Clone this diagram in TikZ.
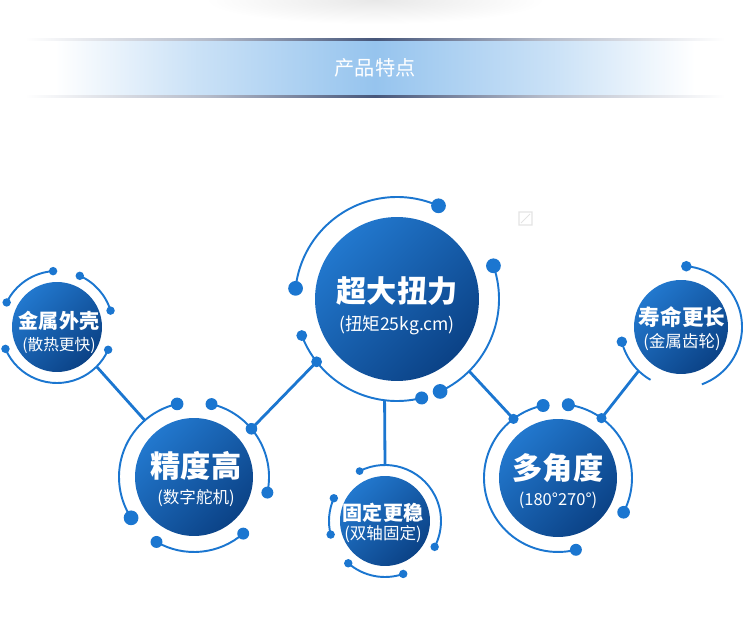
\documentclass[tikz,border=0pt]{standalone}
\usepackage{fontspec}
\setmainfont{Noto Sans CJK SC}
\usetikzlibrary{calc}
\definecolor{ringblue}{RGB}{27,118,208}
\definecolor{disclight}{RGB}{34,120,206}
\definecolor{discdark}{RGB}{11,66,134}
\definecolor{bandblue}{RGB}{150,196,238}
\definecolor{bandline}{RGB}{70,86,122}
\pgfdeclarehorizontalshading{bandfill}{100bp}{color(0bp)=(white); color(25bp)=(white);
  color(36bp)=(bandblue!50); color(50bp)=(bandblue); color(64bp)=(bandblue!50);
  color(75bp)=(white); color(100bp)=(white)}
\pgfdeclarehorizontalshading{bandedge}{100bp}{color(0bp)=(white); color(25bp)=(white);
  color(38bp)=(bandline!40); color(50bp)=(bandline); color(62bp)=(bandline!40);
  color(75bp)=(white); color(100bp)=(white)}

% ring arc round a disc: centre, radius (px), from, to, dot at start, dot at end
\newcommand{\ringarc}[6]{%
  \draw[ring] ($(#1)+(#3:#2)$) arc[start angle=#3, end angle=#4, radius=#2*0.02cm];
  \fill[ringblue] ($(#1)+(#3:#2)$) circle (#5) ($(#1)+(#4:#2)$) circle (#6);
}

\begin{document}
\begin{tikzpicture}[x=0.02cm, y=0.02cm,
    ring/.style={draw=ringblue, line width=1.1pt},
    link/.style={draw=ringblue, line width=1.6pt},
    disc/.style={circle, inner sep=0pt, shading=axis, top color=disclight,
      bottom color=discdark, shading angle=45},
    title/.style={text=white, font=\fontsize{17.2}{20}\selectfont\bfseries},
    smalltitle/.style={text=white, font=\fontsize{11.4}{14}\selectfont\bfseries},
    subtitle/.style={text=white, font=\fontsize{9.4}{11}\selectfont}]
  \useasboundingbox (0,0) rectangle (750,639);

  % header
  \shade[inner color=black!9, outer color=white] (375,639) ellipse [x radius=170, y radius=24];
  \shade[shading=bandfill] (55,542) rectangle (695,599);
  \shade[shading=bandedge] (25,598.2) rectangle (725,600.2);
  \shade[shading=bandedge] (25,541.3) rectangle (725,543.3);
  \node[text=white, font=\fontsize{11.5}{14}\selectfont] (head) at (375,571) {产品特点};

  % faint mark
  \draw[gray!22, line width=0.6pt] (519,414) rectangle (532,427) (521,416) -- (530,425);

  % discs
  \node[disc, minimum size=3.28cm] (torque) at (397,340) {};
  \node[disc, minimum size=1.8cm] (shell) at (57,312) {};
  \node[disc, minimum size=2.36cm] (accuracy) at (194,162) {};
  \node[disc, minimum size=1.8cm] (fixing) at (385,118) {};
  \node[disc, minimum size=2.36cm] (rotation) at (558,161) {};
  \node[disc, minimum size=1.88cm] (lifetime) at (681,312) {};

  % rings
  \ringarc{torque}{102}{66}{174}{4.2pt}{4.2pt}
  \ringarc{torque}{102}{19}{-65}{4.2pt}{4.2pt}
  \ringarc{torque}{102}{201}{284}{3.1pt}{3.7pt}
  \ringarc{shell}{56}{94}{154}{2.4pt}{2.4pt}
  \ringarc{shell}{56}{66}{17}{2.4pt}{2.4pt}
  \ringarc{shell}{56}{203}{336}{2.4pt}{2.4pt}
  \ringarc{accuracy}{75}{103}{213}{3.6pt}{4.2pt}
  \ringarc{accuracy}{75}{76.5}{-12}{3.4pt}{3.4pt}
  \ringarc{accuracy}{75}{-120}{-49}{3.4pt}{3.4pt}
  \ringarc{fixing}{56}{117}{-27.5}{2.2pt}{2.4pt}
  \ringarc{fixing}{56}{156}{194}{2.4pt}{2.4pt}
  \ringarc{fixing}{56}{229}{289}{2.4pt}{2.4pt}
  \ringarc{rotation}{74}{101.6}{284}{3.7pt}{3.4pt}
  \ringarc{rotation}{74}{82}{-27.6}{3.7pt}{3.6pt}
  \ringarc{lifetime}{61}{85}{-70}{3pt}{0pt}
  \ringarc{lifetime}{61}{194}{240}{3pt}{0pt}

  % connector ends
  \coordinate (torque-w) at ($(torque)+(218:102)$);
  \coordinate (torque-s) at ($(torque)+(263:102)$);
  \coordinate (torque-e) at ($(torque)+(315:102)$);
  \coordinate (shell-o) at ($(shell)+(315:56)$);
  \coordinate (accuracy-w) at ($(accuracy)+(131:75)$);
  \coordinate (accuracy-e) at ($(accuracy)+(40:75)$);
  \coordinate (fixing-n) at ($(fixing)+(90:56)$);
  \coordinate (rotation-w) at ($(rotation)+(127:74)$);
  \coordinate (rotation-e) at ($(rotation)+(54:74)$);
  \coordinate (lifetime-o) at ($(lifetime)+(226:61)$);

  % connectors
  \draw[link] (shell-o) -- (accuracy-w);
  \draw[link] (torque-w) -- (accuracy-e);
  \draw[link] (torque-s) -- (fixing-n);
  \draw[link] (torque-e) -- (rotation-w);
  \draw[link] (lifetime-o) -- (rotation-e);
  \fill[ringblue] (torque-w) circle (3.1pt) (accuracy-e) circle (3.3pt)
    (rotation-w) circle (2.9pt) (rotation-e) circle (2.9pt);

  % texts
  \node[title] (torque-t) at (397,348) {超大扭力};
  \node[subtitle, font=\fontsize{10}{12}\selectfont] (torque-u) at (397,314) {(扭矩25kg.cm)};
  \node[smalltitle] (shell-t) at (59,318) {金属外壳};
  \node[subtitle, font=\fontsize{8.9}{11}\selectfont] (shell-u) at (59,294) {(散热更快)};
  \node[title] (accuracy-t) at (196,173) {精度高};
  \node[subtitle] (accuracy-u) at (196,141) {(数字舵机)};
  \node[smalltitle] (fixing-t) at (383,126) {固定更稳};
  \node[subtitle] (fixing-u) at (383,105) {(双轴固定)};
  \node[title] (rotation-t) at (558,171) {多角度};
  \node[subtitle] (rotation-u) at (558,139) {(180°270°)};
  \node[smalltitle, font=\fontsize{12.3}{15}\selectfont\bfseries] (lifetime-t) at (682,322) {寿命更长};
  \node[subtitle] (lifetime-u) at (682,297) {(金属齿轮)};
\end{tikzpicture}
\end{document}
